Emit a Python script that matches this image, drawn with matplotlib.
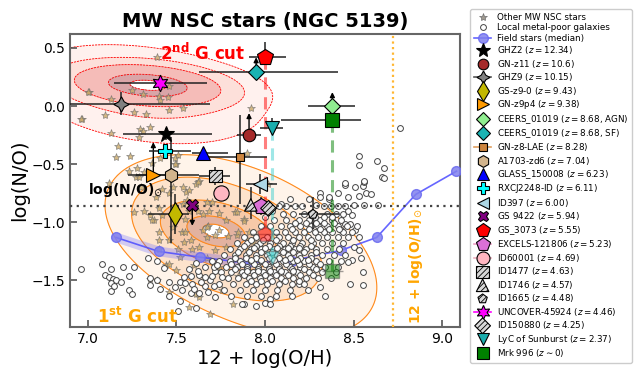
import numpy as np
import matplotlib
matplotlib.use('Agg')
import matplotlib.pyplot as plt
from matplotlib.lines import Line2D

plt.rcParams['hatch.linewidth'] = 0.6

# ---------------- data ----------------
# field stars (median trend)
field_oh = [7.16, 7.40, 7.635, 7.90, 8.15, 8.43, 8.63, 8.85, 9.08]
field_no = [-1.13, -1.25, -1.30, -1.35, -1.33, -1.24, -1.13, -0.76, -0.56]

# solar references
solar_no = -0.86
solar_oh = 8.72

# other MW NSC stars (omega Cen)
nsc_stars = [
    (7.39, 0.42), (7.005, 0.12), (7.13, 0.06), (7.25, 0.14), (7.31, 0.10), (7.40, 0.09),
    (7.45, 0.08), (7.46, 0.17), (7.41, 0.05), (7.10, -0.08), (7.26, -0.05), (7.33, -0.07),
    (7.46, -0.03), (7.535, -0.02), (6.97, -0.11), (7.35, -0.18), (7.295, -0.20), (7.31, -0.21),
    (7.29, -0.27), (7.13, -0.23), (7.17, -0.34), (7.16, -0.44), (7.24, -0.43), (7.41, -0.45),
    (7.49, -0.45), (7.50, -0.50), (7.36, -0.49), (7.23, -0.56), (7.28, -0.53), (7.27, -0.61),
    (7.625, -0.64), (7.12, -0.66), (7.92, -0.02), (7.90, -0.405), (7.00, 0.12), (6.96, -0.11),
    (7.29, -0.61), (7.30, -0.70), (7.32, -0.57), (7.51, -0.42), (7.49, -0.50), (7.535, -0.70),
    (7.555, -0.74), (7.46, -0.75), (7.385, -0.78), (7.40, -0.88), (7.375, -0.98), (7.32, -0.90),
    (7.26, -0.91), (7.35, -0.94), (7.42, -0.94), (7.535, -0.84), (7.57, -0.90), (7.48, -1.04),
    (7.40, -1.08), (7.40, -1.155), (7.53, -1.08), (7.58, -1.155), (7.65, -1.07), (7.67, -1.13),
    (7.51, -1.23), (7.59, -1.23), (7.40, -1.23), (7.44, -1.37), (7.50, -1.41), (7.60, -1.37),
    (7.67, -1.31), (7.72, -1.24), (7.78, -1.21), (7.74, -1.385), (7.81, -1.35), (7.85, -1.46),
    (7.69, -1.79), (7.625, -1.64), (7.82, -1.70), (7.61, -0.67), (7.62, -0.90), (7.67, -0.825),
    (7.74, -0.92), (7.84, -1.11), (7.72, -1.11), (7.68, -1.03), (7.67, -1.04), (7.74, -1.07),
    (7.42, -0.71), (7.48, -0.70), (7.56, -0.81), (7.65, -0.925), (7.36, -0.98), (7.46, -1.155),
    (7.545, -1.17), (7.63, -1.21), (7.52, -1.30), (7.46, -1.36), (7.61, -1.615), (7.46, -1.60),
    (7.39, -1.50), (7.35, -1.49), (7.76, -1.586), (7.57, -1.73), (7.57, -0.72), (7.62, -0.65),
    (7.70, -0.825), (7.685, -0.90), (7.78, -0.98), (7.83, -0.91), (7.88, -0.97), (7.845, -1.08),
    (7.90, -1.14), (7.79, -1.12), (7.55, -0.97), (7.55, -1.08), (8.015, -0.67), (7.84, -0.91),
    (7.88, -0.99), (7.91, -1.08), (7.93, -1.17), (7.90, -1.23),
]

# local metal-poor galaxies
local_galaxies = [
    (6.96, -1.40), (7.08, -1.36), (7.13, -1.40), (7.10, -1.45), (7.12, -1.47), (7.14, -1.49),
    (7.13, -1.52), (7.16, -1.50), (7.20, -1.38), (7.19, -1.51), (7.23, -1.46), (7.13, -1.59),
    (7.235, -1.58), (7.25, -1.62), (7.34, -1.31), (7.35, -1.48), (7.39, -1.33), (7.39, -1.50),
    (7.43, -1.39), (7.46, -1.51), (7.49, -1.56), (7.52, -1.51), (7.46, -1.63), (7.545, -1.47),
    (7.51, -1.76), (7.59, -1.53), (7.63, -1.61), (7.57, -1.40), (7.26, -1.38), (7.15, -1.55),
    (7.35, -1.54), (7.41, -1.57), (7.53, -1.58), (7.58, -1.61), (7.52, -1.68), (7.61, -1.74),
    (7.72, -1.64), (7.81, -1.63), (7.88, -1.70), (7.95, -1.72), (8.00, -1.69), (7.63, -1.45),
    (7.66, -1.38), (7.69, -1.50), (7.72, -1.42), (7.66, -1.55), (7.70, -1.33), (7.61, -1.35),
    (7.74, -1.53), (7.77, -1.58), (8.03, -1.66), (8.15, -1.63), (8.31, -1.56), (8.34, -1.63),
    (8.19, -1.53), (8.45, -0.68), (8.51, -0.70), (8.55, -0.69), (8.56, -0.65), (8.53, -0.77),
    (8.57, -0.75), (8.60, -0.76), (8.56, -0.85), (8.50, -0.85), (8.47, -0.90), (8.64, -0.85),
    (8.49, -0.94), (8.45, -1.01), (8.51, -1.07), (8.48, -1.01), (8.43, -1.07), (8.50, -1.21),
    (8.53, -1.24), (8.54, -1.31), (8.49, -1.32), (8.55, -1.43), (8.47, -1.34), (8.48, -1.53),
    (8.55, -1.54), (8.76, -0.19), (8.53, -0.43), (8.53, -0.51), (8.63, -0.47), (8.67, -0.53),
    (8.66, -0.61), (8.67, -0.62), (8.56, -0.64), (8.45, -0.66), (8.31, -0.75), (8.36, -0.80),
    (8.41, -0.75), (8.29, -0.85), (8.09, -0.84), (8.14, -0.80), (8.25, -0.80), (8.00, -0.95),
    (8.04, -0.90),
    (8.08, -0.86), (8.12, -0.86), (8.17, -0.86), (8.21, -0.86), (8.33, -0.86), (8.37, -0.86),
    (8.41, -0.86), (8.45, -0.86), (8.31, -0.78), (8.36, -0.78), (8.47, -0.78),
    (8.10, -0.93), (8.16, -0.93), (8.22, -0.93), (8.35, -0.93), (8.40, -0.93), (8.44, -0.93),
    (8.05, -0.98), (8.12, -0.98), (8.19, -0.98), (8.25, -0.98), (8.31, -0.98), (8.38, -0.98),
    (8.43, -0.98), (7.98, -1.03), (8.03, -1.03), (8.09, -1.03), (8.14, -1.03), (8.20, -1.03),
    (8.26, -1.03), (8.30, -1.03), (8.35, -1.03), (8.41, -1.03), (8.46, -1.03), (8.52, -1.03),
    (7.93, -1.08), (8.06, -1.08), (8.11, -1.08), (8.17, -1.08), (8.22, -1.08), (8.28, -1.08),
    (8.33, -1.08), (8.38, -1.08), (8.44, -1.08), (8.49, -1.08),
    (7.88, -1.13), (7.95, -1.13), (8.01, -1.13), (8.08, -1.13), (8.13, -1.13), (8.19, -1.13),
    (8.24, -1.13), (8.30, -1.13), (8.35, -1.13), (8.41, -1.13), (8.47, -1.13), (8.53, -1.13),
    (7.84, -1.18), (7.90, -1.18), (7.97, -1.18), (8.03, -1.18), (8.10, -1.18), (8.15, -1.18),
    (8.21, -1.18), (8.27, -1.18), (8.32, -1.18), (8.38, -1.18), (8.44, -1.18),
    (7.80, -1.23), (7.86, -1.23), (7.92, -1.23), (7.98, -1.23), (8.05, -1.23), (8.11, -1.23),
    (8.17, -1.23), (8.23, -1.23), (8.29, -1.23), (8.35, -1.23), (8.42, -1.23),
    (7.77, -1.28), (7.83, -1.28), (7.89, -1.28), (7.95, -1.28), (8.01, -1.28), (8.07, -1.28),
    (8.13, -1.28), (8.19, -1.28), (8.26, -1.28), (8.32, -1.28), (8.39, -1.28), (8.45, -1.28),
    (7.74, -1.33), (7.80, -1.33), (7.86, -1.33), (7.92, -1.33), (7.98, -1.33), (8.04, -1.33),
    (8.10, -1.33), (8.16, -1.33), (8.22, -1.33), (8.29, -1.33), (8.36, -1.33), (8.43, -1.33),
    (7.71, -1.38), (7.78, -1.38), (7.84, -1.38), (7.90, -1.38), (7.96, -1.38), (8.02, -1.38),
    (8.08, -1.38), (8.14, -1.38), (8.20, -1.38), (8.27, -1.38), (8.34, -1.38), (8.41, -1.38),
    (7.75, -1.43), (7.81, -1.43), (7.87, -1.43), (7.93, -1.43), (7.99, -1.43), (8.05, -1.43),
    (8.11, -1.43), (8.18, -1.43), (8.25, -1.43), (8.32, -1.43), (8.40, -1.43),
    (7.79, -1.48), (7.85, -1.48), (7.91, -1.48), (7.97, -1.48), (8.03, -1.48), (8.09, -1.48),
    (8.16, -1.48), (8.23, -1.48), (8.30, -1.48), (8.37, -1.48),
    (7.82, -1.53), (7.89, -1.53), (7.95, -1.53), (8.01, -1.53), (8.08, -1.53), (8.15, -1.53),
    (8.22, -1.53), (7.86, -1.58), (7.93, -1.58), (8.00, -1.58), (8.07, -1.58), (8.14, -1.58),
    (8.24, -1.58), (7.90, -1.63), (7.98, -1.63), (8.06, -1.63), (7.87, -1.70), (8.03, -1.70),
    (7.92, -1.155), (7.99, -1.155), (8.06, -1.155), (8.16, -1.155), (8.26, -1.155),
    (7.88, -1.205), (7.95, -1.205), (8.02, -1.205), (8.08, -1.205), (8.14, -1.205), (8.20, -1.205),
    (8.26, -1.205), (7.85, -1.255), (7.91, -1.255), (7.98, -1.255), (8.04, -1.255), (8.10, -1.255),
    (8.16, -1.255), (8.22, -1.255), (8.29, -1.255), (7.83, -1.305), (7.89, -1.305), (7.95, -1.305),
    (8.02, -1.305), (8.08, -1.305), (8.14, -1.305), (8.20, -1.305), (8.26, -1.305),
    (7.81, -1.355), (7.87, -1.355), (7.94, -1.355), (8.00, -1.355), (8.06, -1.355), (8.12, -1.355),
    (8.19, -1.355), (8.25, -1.355), (8.31, -1.355), (7.83, -1.405), (7.90, -1.405), (7.96, -1.405),
    (8.02, -1.405), (8.08, -1.405), (8.15, -1.405), (8.22, -1.405), (8.29, -1.405),
    (7.88, -1.455), (7.94, -1.455), (8.00, -1.455), (8.06, -1.455), (8.13, -1.455), (8.20, -1.455),
    (8.27, -1.455), (7.92, -1.505), (7.98, -1.505), (8.04, -1.505), (8.11, -1.505), (8.19, -1.505),
    (8.17, -1.005), (8.23, -1.005), (8.29, -1.005), (8.33, -1.005), (8.39, -1.005),
    (8.15, -1.055), (8.25, -1.055), (8.31, -1.055), (8.36, -1.055), (8.42, -1.055),
    (8.28, -0.955), (8.33, -0.955), (8.38, -0.955),
    (7.94, -1.22), (8.00, -1.22), (8.07, -1.22), (8.13, -1.22), (8.19, -1.22),
    (7.92, -1.32), (7.98, -1.32), (8.05, -1.32), (8.11, -1.32), (8.18, -1.32), (8.24, -1.32),
    (7.90, -1.42), (7.96, -1.42), (8.03, -1.42), (8.09, -1.42), (8.16, -1.42),
    (7.62, -1.42), (7.66, -1.47), (7.70, -1.46), (7.64, -1.51), (7.71, -1.55), (7.68, -1.60),
    (7.76, -1.47), (7.73, -1.37), (7.58, -1.46), (7.55, -1.52), (7.60, -1.57),
]

# density shape of the two populations (centre, widths, tilt, weight)
g2_cx = [7.34, 7.32]
g2_cy = [0.18, 0.10]
g2_sx = [0.20, 0.30]
g2_sy = [0.085, 0.19]
g2_rho = [-0.25, -0.3]
g2_w = [1.0, 0.05]
g2_levels = [0.004, 0.03, 0.13, 0.55, 0.88]

g1_cx = [7.72, 7.74, 7.92]
g1_cy = [-1.07, -1.12, -1.22]
g1_sx = [0.13, 0.22, 0.42]
g1_sy = [0.10, 0.22, 0.45]
g1_rho = [-0.3, -0.4, -0.45]
g1_w = [1.0, 0.40, 0.06]
g1_levels = [0.01, 0.035, 0.15, 0.55, 0.88]

# high-z galaxies and references
obj_names = ['GHZ2', 'GN-z11', 'GHZ9', 'GS-z9-0', 'GN-z9p4', 'CEERS_01019', 'CEERS_01019',
             'GN-z8-LAE', 'A1703-zd6', 'GLASS_150008', 'RXCJ2248-ID', 'ID397', 'GS 9422',
             'GS_3073', 'EXCELS-121806', 'ID60001', 'ID1477', 'ID1746', 'ID1665',
             'UNCOVER-45924', 'ID150880', 'LyC of Sunburst', 'Mrk 996']
obj_z = ['12.34', '10.6', '10.15', '9.43', '9.38', '8.68', '8.68', '8.28', '7.04',
         '6.23', '6.11', '6.00', '5.94', '5.55', '5.23', '4.69', '4.63', '4.57', '4.48',
         '4.46', '4.25', '2.37', '0']
obj_tag = ['', '', '', '', '', ', AGN', ', SF', '', '', '', '', '', '', '', '', '', '', '',
           '', '', '', '', '']
obj_oh = [7.44, 7.91, 7.19, 7.49, 7.37, 8.38, 7.95, 7.86, 7.47, 7.65, 7.435, 7.97, 7.59,
          8.00, 7.98, 7.75, 7.72, 7.92, 8.27, 7.41, 8.02, 8.04, 8.38]
obj_no = [-0.24, -0.25, 0.02, -0.93, -0.59, 0.00, 0.29, -0.44, -0.59, -0.40, -0.39, -0.67,
          -0.85, 0.42, -0.86, -0.75, -0.60, -0.85, -0.93, 0.20, -0.88, -0.19, -0.12]
obj_xlo = [0.24, 0.07, 0.30, 0.15, 0.10, 0.14, 0.32, 0.21, 0.24, 0.06, 0.09, 0.08, 0.0,
           0.09, 0.06, 0.0, 0.09, 0.0, 0.08, 0.26, 0.05, 0.07, 0.29]
obj_xhi = [0.26, 0.07, 0.50, 0.08, 0.10, 0.13, 0.46, 0.15, 0.16, 0.14, 0.15, 0.10, 0.0,
           0.12, 0.06, 0.0, 0.08, 0.0, 0.15, 0.26, 0.05, 0.06, 0.16]
obj_ylo = [0.05, 0.0, 0.10, 0.17, 0.0, 0.0, 0.0, 0.40, 0.59, 0.03, 0.05, 0.09, 0.0,
           0.0, 0.08, 0.0, 0.08, 0.12, 0.13, 0.03, 0.05, 0.0, 0.0]
obj_yhi = [0.05, 0.0, 0.10, 0.17, 0.0, 0.0, 0.0, 0.36, 0.32, 0.03, 0.05, 0.09, 0.0,
           0.13, 0.08, 0.0, 0.08, 0.15, 0.15, 0.03, 0.05, 0.09, 0.0]
obj_arrow = [0, 0.19, 0, 0, 0.28, 0.12, 0.13, 0, 0, 0, 0, 0, -0.18,
             0, 0, 0, 0, 0, 0, 0, 0, 0, 0]

# corrected values for GS_3073, LyC of Sunburst and Mrk 996
corr_names = ['GS_3073', 'LyC of Sunburst', 'Mrk 996']
corr_no = [-1.10, -1.31, -1.42]
corr_xerr = [0.08, 0.0, 0.06]

# ---------------- styles ----------------
obj_marker = ['*', 'o', (4, 1, 0), 'd', '>', 'D', 'D', 's', 'h', '^', 'P', '<', 'X',
              'p', 'p', 'o', 's', '^', 'p', (6, 1, 0), 'D', 'v', 's']
obj_color = ['black', '#a52a2a', '#808080', '#c2b800', '#ff9a00', '#90ee90', '#1ab3b3',
             '#cd853f', '#d2b48c', '#0000ff', '#00ffff', '#add8e6', '#800080', '#ff0000',
             '#da70d6', '#ffb6c1', 'hatch', 'hatch', 'hatch', '#ff00ff', 'hatch',
             '#1aacac', '#008000']
obj_size = [12, 9, 11, 12, 10, 8, 8, 6, 10, 10, 10, 10, 9, 12, 12, 11, 9, 9, 7, 12, 8, 10, 10]
obj_line = [None, None, '#555555', None, None, None, None, '#e0a060', None, None, None, None,
            None, None, '#f0a0c8', '#f0b0c0', None, None, None, '#ff00ff', None, None, None]
corr_color = {'GS_3073': '#ff0000', 'LyC of Sunburst': '#40d0d0', 'Mrk 996': '#008000'}


def mixture(xx, yy, cx, cy, sx, sy, rho, w):
    d = np.zeros_like(xx)
    for i in range(len(cx)):
        u = (xx - cx[i]) / sx[i]
        v = (yy - cy[i]) / sy[i]
        q = (u * u - 2 * rho[i] * u * v + v * v) / (1 - rho[i] ** 2)
        d += w[i] * np.exp(-0.5 * q)
    return d / d.max()


fig = plt.figure(figsize=(6.35, 3.74), dpi=100)
ax = fig.add_axes([70 / 635, 1 - 327 / 374, 390 / 635, 293 / 374])

gx, gy = np.meshgrid(np.linspace(6.3, 9.3, 400), np.linspace(-2.6, 1.2, 400))

d1 = mixture(gx, gy, g1_cx, g1_cy, g1_sx, g1_sy, g1_rho, g1_w)
ax.contourf(gx, gy, d1, levels=g1_levels,
            colors=['#fff4ea', '#fde3cc', '#f7c9a8', '#e2b2a0'], zorder=1)
ax.contour(gx, gy, d1, levels=g1_levels, colors='#ff8a1c', linewidths=0.8, zorder=1.5)

d2 = mixture(gx, gy, g2_cx, g2_cy, g2_sx, g2_sy, g2_rho, g2_w)
ax.contourf(gx, gy, d2, levels=g2_levels,
            colors=['#fff1ee', '#fde0da', '#f5bcb8', '#d9a5a8'], zorder=1)
ax.contour(gx, gy, d2, levels=g2_levels, colors='red', linewidths=0.6,
           linestyles=[(0, (2.5, 1.2))], zorder=1.5)

# stars and local galaxies
s_oh, s_no = np.array(nsc_stars).T
ax.plot(s_oh, s_no, ls='none', marker='*', ms=6, mfc='#c8a868', mec='#707070', mew=0.5,
        alpha=0.8, zorder=2)

# field-star median
ax.plot(field_oh[:4], field_no[:4], color='#6a6aff', lw=7, alpha=0.3,
        solid_capstyle='round', zorder=2.5)
ax.plot(field_oh, field_no, color='#4b4bff', lw=1.2, alpha=0.85, marker='o', ms=7,
        mfc='#8080ee', mec='#6a6af0', zorder=2.6)

g_oh, g_no = np.array(local_galaxies).T
ax.plot(g_oh, g_no, ls='none', marker='o', ms=4.2, mfc='white', mec='#444444', mew=0.7,
        zorder=3)

# solar lines
ax.axhline(solar_no, color='#444444', ls=(0, (1, 2)), lw=1.6, zorder=3.5)
ax.axvline(solar_oh, color='#ffb733', ls=(0, (1, 1.5)), lw=1.6, zorder=3.5)

# corrected values + connecting dashed lines
for name, ny, xe in zip(corr_names, corr_no, corr_xerr):
    i = obj_names.index(name)
    c = corr_color[name]
    ax.plot([obj_oh[i], obj_oh[i]], [obj_no[i], ny], ls=(0, (4, 2.5)), lw=2.2, color=c,
            alpha=0.5, zorder=4)
    if xe > 0:
        ax.errorbar(obj_oh[i], ny, xerr=xe, fmt='none', ecolor='#444444', elinewidth=1,
                    alpha=0.5, zorder=4)
    ax.plot(obj_oh[i], ny, ls='none', marker=obj_marker[i], ms=obj_size[i], mfc=c,
            mec='#555555', alpha=0.5, zorder=4)

handles = []
handles.append(Line2D([], [], ls='none', marker='*', ms=6, mfc='#a09a90', mec='#707070',
                      mew=0.5, label='Other MW NSC stars'))
handles.append(Line2D([], [], ls='none', marker='o', ms=4.2, mfc='white', mec='#444444',
                      mew=0.7, label='Local metal-poor galaxies'))
handles.append(Line2D([], [], color='#4b4bff', lw=1.2, marker='o', ms=7, mfc='#8080ee',
                      mec='#6a6af0', alpha=0.85, label='Field stars (median)'))

for i, name in enumerate(obj_names):
    x, y = obj_oh[i], obj_no[i]
    rel = r'\sim' if name == 'Mrk 996' else '='
    label = name + r' ($z %s %s$%s)' % (rel, obj_z[i], obj_tag[i])
    if obj_xlo[i] + obj_xhi[i] + obj_ylo[i] + obj_yhi[i] > 0:
        ax.errorbar(x, y, xerr=[[obj_xlo[i]], [obj_xhi[i]]], yerr=[[obj_ylo[i]], [obj_yhi[i]]],
                    fmt='none', ecolor='#222222', elinewidth=1.1, capsize=0, zorder=5)
    if obj_arrow[i] != 0:
        ax.annotate('', xy=(x, y + obj_arrow[i]), xytext=(x, y),
                    arrowprops=dict(arrowstyle='-|>', color='black', lw=1.0,
                                    mutation_scale=7, shrinkA=0, shrinkB=0), zorder=5)
    if obj_color[i] == 'hatch':
        h = ax.scatter([x], [y], marker=obj_marker[i], s=obj_size[i] ** 2, facecolor='#d8d8d8',
                       edgecolor='black', linewidth=0.8, hatch='//////', zorder=6, label=label)
        handles.append(h)
    else:
        ax.plot(x, y, ls='none', marker=obj_marker[i], ms=obj_size[i], mfc=obj_color[i],
                mec='black', mew=0.8, zorder=6)
        lc = obj_line[i]
        handles.append(Line2D([], [], ls='-' if lc else 'none', color=lc or 'k', lw=1.2,
                              marker=obj_marker[i], ms=obj_size[i] * 0.85, mfc=obj_color[i],
                              mec='black', mew=0.8, label=label))

# annotations
ax.text(7.405, 0.457, r'2$^{\mathbf{nd}}$ G cut', color='red', fontsize=12,
        fontweight='bold', va='center', ha='left', zorder=7)
ax.text(7.05, -1.816, r'1$^{\mathbf{st}}$ G cut', color='#ffa500', fontsize=12,
        fontweight='bold', va='center', ha='left', zorder=7)
ax.text(7.0, -0.724, r'log(N/O)$_{\odot}$', color='black', fontsize=10,
        fontweight='bold', va='center', ha='left', zorder=7)
ax.text(8.85, -1.38, r'12 + log(O/H)$_{\odot}$', color='#ffa500', fontsize=10,
        fontweight='bold', va='center', ha='center', rotation=90, zorder=7)

ax.set_xlim(6.9, 9.1)
ax.set_ylim(-1.9, 0.62)
ax.set_xticks([7.0, 7.5, 8.0, 8.5, 9.0])
ax.set_yticks([-1.5, -1.0, -0.5, 0.0, 0.5])
ax.tick_params(direction='in', length=5, width=1.2, labelsize=10, color='#555555')
for sp in ax.spines.values():
    sp.set_linewidth(1.5)
    sp.set_color('#666666')
ax.set_xlabel('12 + log(O/H)', fontsize=14, labelpad=2)
ax.set_ylabel('log(N/O)', fontsize=14, labelpad=2)
ax.set_title('MW NSC stars (NGC 5139)', fontsize=14, fontweight='bold', pad=5)

fig.legend(handles=handles, loc='upper left', bbox_to_anchor=(466 / 635, 1 - 5 / 374),
           fontsize=6.3, labelspacing=0.17, borderpad=0.4, handletextpad=0.6,
           handlelength=2.0, frameon=True, edgecolor='#cccccc', framealpha=1)

fig.savefig('out.png', dpi=100)
